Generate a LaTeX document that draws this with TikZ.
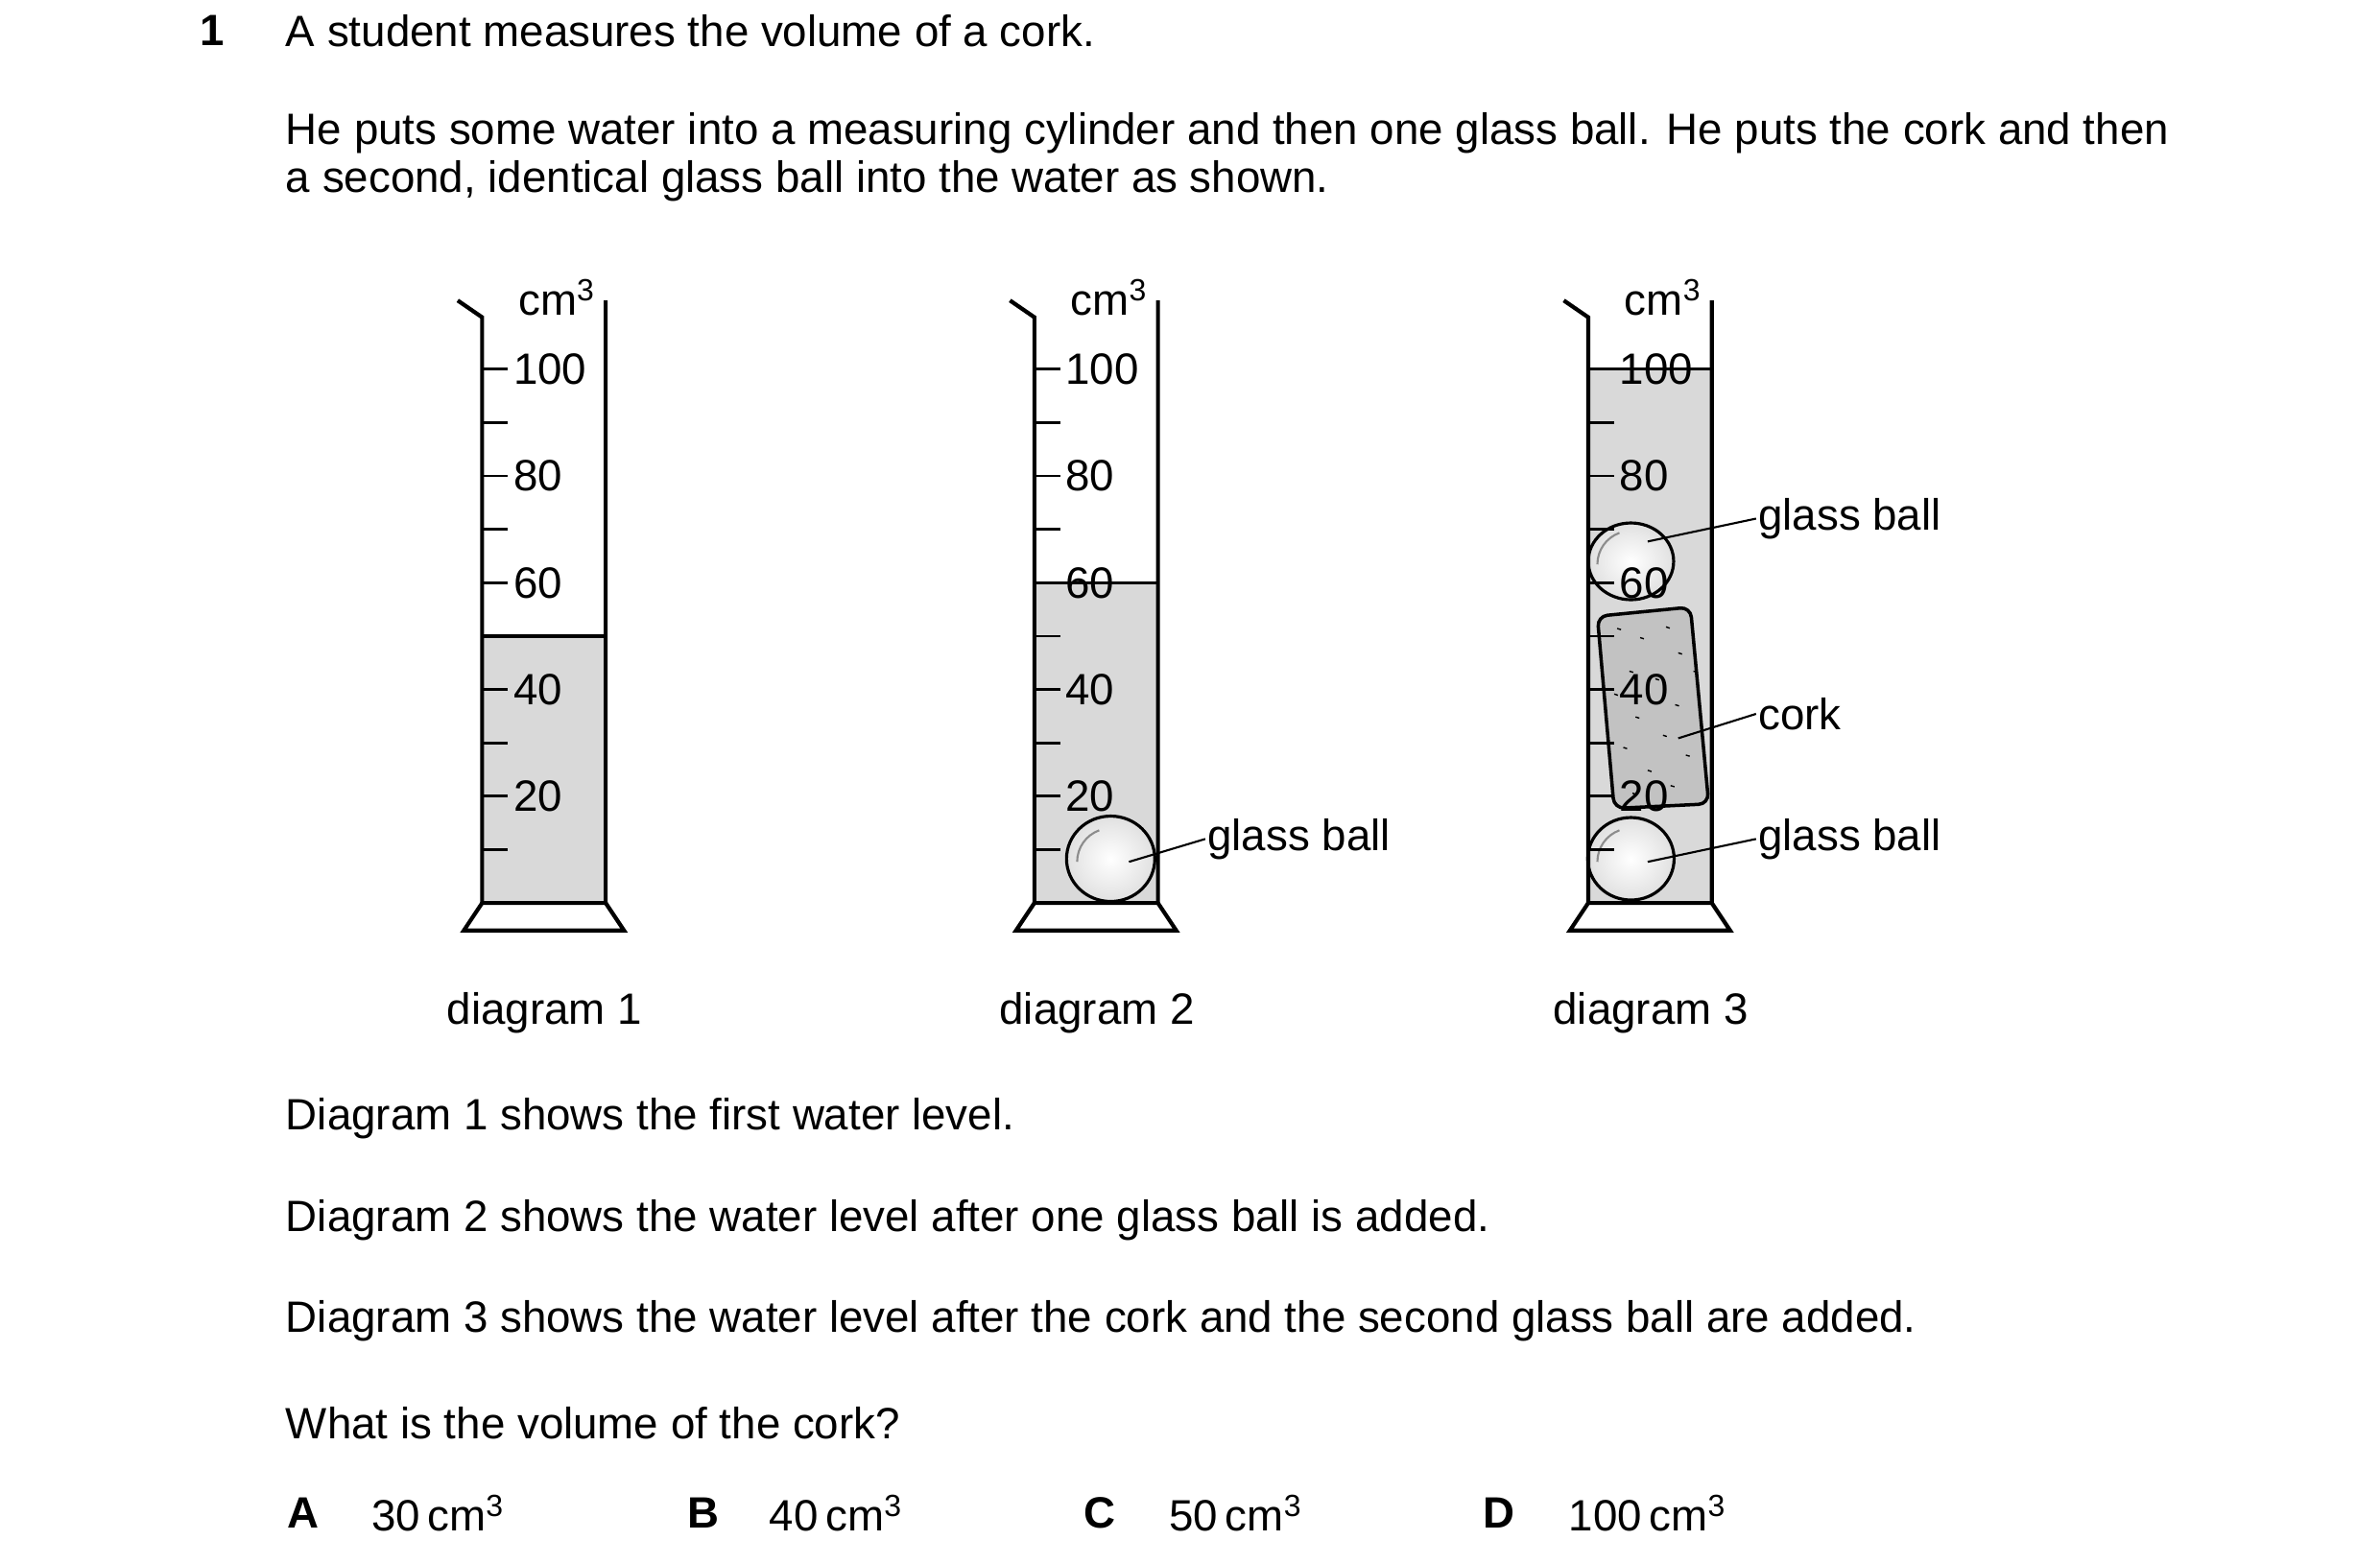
\documentclass[tikz,border=0pt]{standalone}
\usepackage{fontspec}
\setmainfont{Liberation Sans}
\usetikzlibrary{positioning, shapes.geometric}

\tikzset{
  wall/.style={line width=1.2pt, line join=miter},
  tick/.style={line width=0.8pt},
  water/.style={fill=black!15},
  ball/.style={draw, ellipse, line width=0.9pt, inner sep=0pt, inner color=white, outer color=black!12},
  shine/.style={black!45, line width=0.6pt},
  lbl/.style={inner sep=0.5pt, font=\fontsize{13}{15.6}\selectfont},
  txt/.style={anchor=west, inner sep=0pt, font=\fontsize{13}{15.6}\selectfont},
  leader/.style={line width=0.6pt}
}

% one measuring cylinder: #1 left x, #2 water level, #3 name
\newcommand{\mcyl}[3]{%
  \fill[water] (#1,{592-3.5*#2}) rectangle (#1+81,592);
  \draw[line width=1pt] (#1,{592-3.5*#2}) -- (#1+81,{592-3.5*#2});
  \foreach \v in {10,20,...,100}
    \draw[tick] (#1,{592-3.5*\v}) -- ++(17,0);
  \foreach \v in {20,40,...,100}
    \node[lbl, anchor=west] at (#1+19,{592-3.5*\v}) {\v};
  \draw[wall] (#1-16,197) -- (#1,208) -- (#1,592) -- (#1+81,592) -- (#1+81,197);
  \draw[wall] (#1,592) -- (#1-12,610) -- (#1+93,610) -- (#1+81,592);
  \node[lbl, anchor=east] (#3u) at (#1+76,195) {cm\textsuperscript{3}};
  \node[lbl] (#3cap) at (#1+41,664) {diagram #3};
}

\begin{document}
\begin{tikzpicture}[x=0.0159cm, y=-0.0159cm]
\useasboundingbox (0,0) rectangle (1560,1025);

% question text
\node[txt] (qn) at (131,20) {\textbf{1}};
\node[txt] (q1) at (187,20) {A student measures the volume of a cork.};
\node[txt] (q2) at (187,87) {He puts some water into a measuring cylinder and then one glass ball. He puts the cork and then};
\node[txt] (q3) at (187,119) {a second, identical glass ball into the water as shown.};

% cylinders
\mcyl{316}{50}{1}
\mcyl{678}{60}{2}

% diagram 3: water, cork and balls, then scale on top
\fill[water] (1041,242) rectangle (1122,592);
\draw[line width=1pt, rounded corners=3, fill=black!24] (1047,404) -- (1108,398) -- (1120,527) -- (1058,530) -- cycle;
\foreach \px/\py in {1060/412,1075/418,1092/411,1100/428,1068/440,1085/445,1058/455,1098/462,
                     1072/470,1090/482,1064/490,1105/495,1080/505,1095/515,1070/520,1110/440}
  \draw[line width=0.4pt] (\px,\py) -- ++(2.5,0.8);
\node[ball, minimum width=0.89cm, minimum height=0.8cm] (b3t) at (1069,368) {};
\node[ball, minimum width=0.9cm, minimum height=0.86cm] (b3b) at (1069,563) {};
\draw[shine] ([shift={(-22,2)}]b3t.center) arc (180:250:22);
\draw[shine] ([shift={(-22,2)}]b3b.center) arc (180:250:22);
\coordinate (ck) at (1100,484);
\foreach \v in {10,20,...,100}
  \draw[tick] (1041,{592-3.5*\v}) -- ++(17,0);
\foreach \v in {20,40,...,100}
  \node[lbl, anchor=west] at (1041+19,{592-3.5*\v}) {\v};
\draw[line width=1pt] (1041,242) -- (1122,242);
\draw[wall] (1025,197) -- (1041,208) -- (1041,592) -- (1122,592) -- (1122,197);
\draw[wall] (1041,592) -- (1029,610) -- (1134,610) -- (1122,592);
\node[lbl, anchor=east] (3u) at (1117,195) {cm\textsuperscript{3}};
\node[lbl] (3cap) at (1082,664) {diagram 3};

% diagram 2 ball
\node[ball, minimum width=0.92cm, minimum height=0.89cm] (b2) at (728,563) {};
\draw[shine] ([shift={(-22,2)}]b2.center) arc (180:250:22);

% leader labels
\node[lbl, anchor=west] (g2) at (790,550) {glass ball};
\draw[leader] (740,565) -- (g2.west);
\node[lbl, anchor=west] (g3t) at (1151,340) {glass ball};
\draw[leader] (1080,355) -- (g3t.west);
\node[lbl, anchor=west] (g3c) at (1151,468) {cork};
\draw[leader] (ck) -- (g3c.west);
\node[lbl, anchor=west] (g3b) at (1151,550) {glass ball};
\draw[leader] (1080,565) -- (g3b.west);

% lower text
\node[txt] (t1) at (187,733) {Diagram 1 shows the first water level.};
\node[txt] (t2) at (187,800) {Diagram 2 shows the water level after one glass ball is added.};
\node[txt] (t3) at (187,866) {Diagram 3 shows the water level after the cork and the second glass ball are added.};
\node[txt] (t4) at (187,933) {What is the volume of the cork?};

% options
\node[txt] (oA) at (188,992) {\textbf{A}};
\node[txt] (vA) at (243,992) {30\,cm\textsuperscript{3}};
\node[txt] (oB) at (450,992) {\textbf{B}};
\node[txt] (vB) at (504,992) {40\,cm\textsuperscript{3}};
\node[txt] (oC) at (710,992) {\textbf{C}};
\node[txt] (vC) at (766,992) {50\,cm\textsuperscript{3}};
\node[txt] (oD) at (972,992) {\textbf{D}};
\node[txt] (vD) at (1028,992) {100\,cm\textsuperscript{3}};
\end{tikzpicture}
\end{document}
